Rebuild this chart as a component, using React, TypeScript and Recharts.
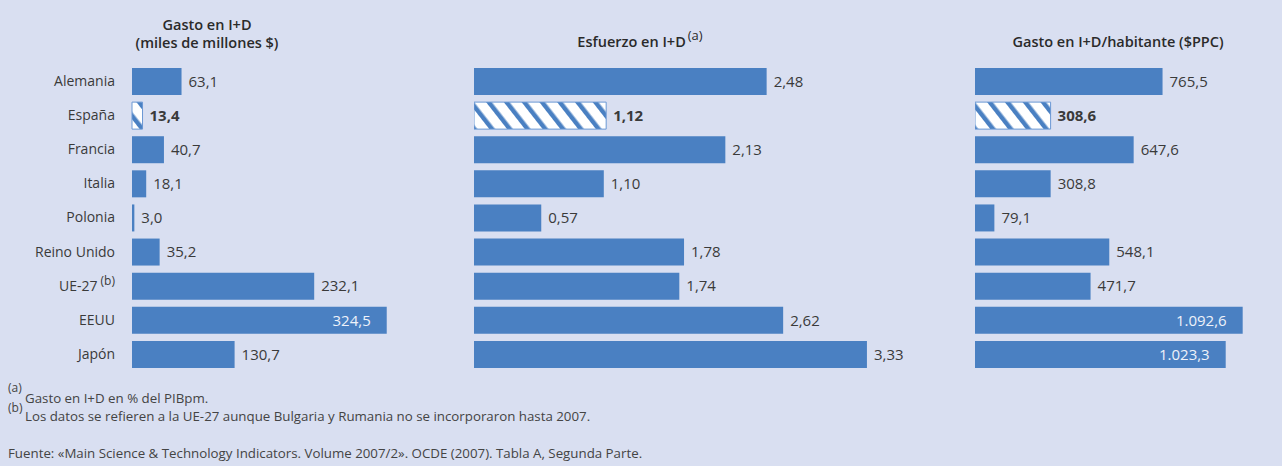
import { BarChart, Bar, XAxis, YAxis, Cell, LabelList } from 'recharts';

const countries = ['Alemania', 'España', 'Francia', 'Italia', 'Polonia', 'Reino Unido', 'UE-27', 'EEUU', 'Japón'];
const gastoID = [63.1, 13.4, 40.7, 18.1, 3.0, 35.2, 232.1, 324.5, 130.7];
const esfuerzoID = [2.48, 1.12, 2.13, 1.1, 0.57, 1.78, 1.74, 2.62, 3.33];
const gastoHabitante = [765.5, 308.6, 647.6, 308.8, 79.1, 548.1, 471.7, 1092.6, 1023.3];
const highlight = 'España';
const footnoteCountry = 'UE-27';

const BG = '#d9dff1';
const BLUE = '#4a80c2';
const TEXT = '#3a3a3a';
const FONT = '"Open Sans", sans-serif';

// formato español: punto de miles, coma decimal
const fmt = (v: number, d: number) => {
  const [i, f] = v.toFixed(d).split('.');
  return i.replace(/\B(?=(\d{3})+(?!\d))/g, '.') + ',' + f;
};

const CountryTick = (props: any) => {
  const { x, y, payload } = props;
  const name = payload.value as string;
  return (
    <text x={x} y={y} dy="0.35em" textAnchor="end" fill={TEXT} fontSize={14} fontFamily={FONT}>
      {name}
      {name === footnoteCountry && (
        <tspan fontSize={12} dx={3} dy={-6}>
          (b)
        </tspan>
      )}
    </text>
  );
};

interface PanelProps {
  values: number[];
  decimals: number;
  left: number;
  width: number;
  domainMax: number;
  axisWidth?: number;
  limit: number; // borde derecho (px de la página) antes del cual cabe la etiqueta
}

const Panel = ({ values, decimals, left, width, domainMax, axisWidth = 0, limit }: PanelProps) => {
  const data = countries.map((name, i) => ({ name, value: values[i] }));

  const renderLabel = (p: any) => {
    const { x, y, width: w, height: h, index } = p;
    const text = fmt(values[index], decimals);
    const bold = countries[index] === highlight;
    const end = x + w;
    const inside = left + end + 8 + text.length * 8 > limit;
    return (
      <text
        x={inside ? end - 16 : end + 7}
        y={y + h / 2}
        dy="0.35em"
        textAnchor={inside ? 'end' : 'start'}
        fill={inside ? '#eef2fa' : TEXT}
        fontWeight={bold ? 700 : 400}
        fontSize={15}
        fontFamily={FONT}
      >
        {text}
      </text>
    );
  };

  return (
    <div style={{ position: 'absolute', left, top: 64 }}>
      <BarChart
        width={width}
        height={307}
        layout="vertical"
        data={data}
        margin={{ top: 0, right: 0, bottom: 0, left: 0 }}
      >
        <XAxis type="number" domain={[0, domainMax]} hide />
        <YAxis
          type="category"
          dataKey="name"
          width={axisWidth}
          hide={axisWidth === 0}
          axisLine={false}
          tickLine={false}
          tickSize={0}
          tickMargin={17}
          tick={<CountryTick />}
          interval={0}
        />
        <Bar dataKey="value" barSize={27} isAnimationActive={false}>
          {data.map((d) =>
            d.name === highlight ? (
              <Cell key={d.name} fill="url(#hatch)" stroke="#6b98d4" strokeWidth={1} />
            ) : (
              <Cell key={d.name} fill={BLUE} />
            ),
          )}
          <LabelList dataKey="value" content={renderLabel} />
        </Bar>
      </BarChart>
    </div>
  );
};

const titleStyle = {
  position: 'absolute' as const,
  width: 400,
  textAlign: 'center' as const,
  fontFamily: FONT,
  fontSize: 14.5,
  fontWeight: 600,
  lineHeight: '17.5px',
  color: '#2a2a2a',
};

const noteStyle = {
  position: 'absolute' as const,
  fontFamily: FONT,
  fontSize: 13.3,
  lineHeight: '16px',
  color: '#444',
  whiteSpace: 'nowrap' as const,
};

export default function App() {
  return (
    <div
      style={{
        position: 'absolute',
        left: 0,
        top: 0,
        width: 1282,
        height: 466,
        background: BG,
        overflow: 'hidden',
      }}
    >
      <svg width={0} height={0} style={{ position: 'absolute' }}>
        <defs>
          <pattern id="hatch" patternUnits="userSpaceOnUse" width={14} height={14} patternTransform="rotate(-38)">
            <rect width={14} height={14} fill="#fff" />
            <rect width={4.5} height={14} fill={BLUE} />
          </pattern>
        </defs>
      </svg>

      <div style={{ ...titleStyle, left: 7, top: 16 }}>
        Gasto en I+D
        <br />
        (miles de millones $)
      </div>
      <div style={{ ...titleStyle, left: 440, top: 33 }}>
        Esfuerzo en I+D
        <span style={{ fontSize: 13, fontWeight: 400, marginLeft: 2, position: 'relative', top: -7 }}>(a)</span>
      </div>
      <div style={{ ...titleStyle, left: 918, top: 33 }}>Gasto en I+D/habitante ($PPC)</div>

      <Panel values={gastoID} decimals={1} left={0} width={132 + 314} domainMax={400} axisWidth={132} limit={420} />
      <Panel values={esfuerzoID} decimals={2} left={474} width={472} domainMax={4} limit={960} />
      <Panel values={gastoHabitante} decimals={1} left={975} width={294} domainMax={1200} limit={1275} />

      <div style={{ ...noteStyle, left: 8, top: 380, fontSize: 12 }}>(a)</div>
      <div style={{ ...noteStyle, left: 25, top: 390 }}>Gasto en I+D en % del PIBpm.</div>
      <div style={{ ...noteStyle, left: 8, top: 400, fontSize: 12 }}>(b)</div>
      <div style={{ ...noteStyle, left: 25, top: 408 }}>
        Los datos se refieren a la UE-27 aunque Bulgaria y Rumania no se incorporaron hasta 2007.
      </div>
      <div style={{ ...noteStyle, left: 8, top: 445 }}>
        Fuente: «Main Science &amp; Technology Indicators. Volume 2007/2». OCDE (2007). Tabla A, Segunda Parte.
      </div>
    </div>
  );
}
